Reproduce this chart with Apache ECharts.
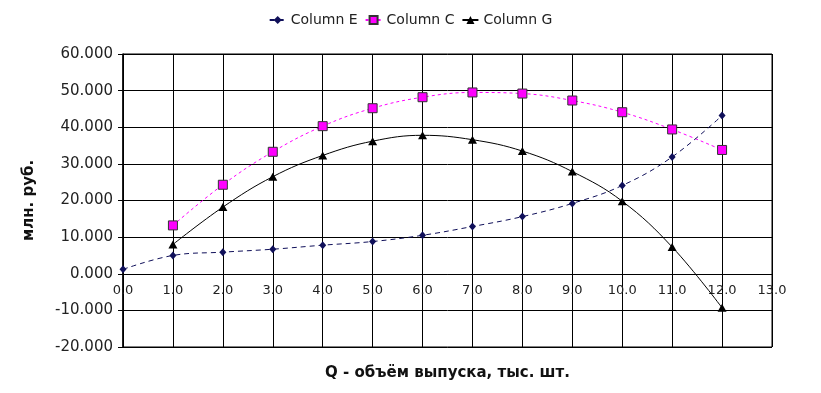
<!DOCTYPE html>
<html>
<head>
<meta charset="utf-8">
<script src="https://cdn.jsdelivr.net/npm/echarts@6/dist/echarts.min.js"></script>
<style>
html,body{margin:0;padding:0;background:#fff;}
#chart{width:821px;height:393px;}
</style>
</head>
<body>
<div id="chart"></div>
<script>
const xValues = [0,1,2,3,4,5,6,7,8,9,10,11,12];
const columnE = [1.2,5.0,5.9,6.7,7.8,8.8,10.5,12.9,15.6,19.2,24.1,31.9,43.2];
const columnCx = [1,2,3,4,5,6,7,8,9,10,11,12];
const columnC = [13.2,24.3,33.3,40.3,45.2,48.2,49.5,49.2,47.3,44.1,39.4,33.8];
const columnGx = [1,2,3,4,5,6,7,8,9,10,11,12];
const columnG = [8.0,18.2,26.5,32.3,36.2,37.8,36.6,33.5,27.9,19.8,7.3,-9.3];
const seriesNames = ['Column E','Column C','Column G'];
const xTitle = 'Q - объём выпуска, тыс. шт.';
const yTitle = 'млн. руб.';

const font = 'DejaVu Sans';
const zip = (xs, ys) => xs.map((x, i) => [x, ys[i]]);

const chart = echarts.init(document.getElementById('chart'), null, {renderer:'canvas'});
chart.setOption({
  backgroundColor:'#fff',
  animation:false,
  textStyle:{fontFamily:font},
  legend:{
    top:8, left:'center',
    itemWidth:16, itemHeight:10, itemGap:7,
    textStyle:{fontFamily:font, fontSize:14, color:'#222'},
    data:seriesNames
  },
  grid:{left:123, right:49, top:54, bottom:46, containLabel:false, outerBoundsMode:'none',
        show:true, borderColor:'#000', borderWidth:1, backgroundColor:'transparent'},
  xAxis:{
    type:'value', min:0, max:13, interval:1,
    position:'bottom', offset:-73,
    name:xTitle, nameLocation:'middle', nameGap:92,
    nameTextStyle:{fontFamily:font, fontSize:15, fontWeight:'bold', color:'#111'},
    axisLine:{show:true, onZero:false, lineStyle:{color:'#000', width:1}},
    axisTick:{show:false},
    axisLabel:{formatter:v=>v.toFixed(1), fontSize:13, color:'#222', margin:10, fontFamily:font},
    splitLine:{show:true, lineStyle:{color:'#000', width:1}}
  },
  yAxis:{
    type:'value', min:-20, max:60, interval:10,
    name:yTitle, nameLocation:'middle', nameGap:86, nameRotate:90,
    nameTextStyle:{fontFamily:font, fontSize:15, fontWeight:'bold', color:'#111'},
    axisLine:{show:true, onZero:false, lineStyle:{color:'#000', width:1.5}},
    axisTick:{show:true, length:5, inside:false, lineStyle:{color:'#000'}},
    axisLabel:{formatter:v=>v.toFixed(3), fontSize:15, color:'#222', margin:10, fontFamily:font},
    splitLine:{show:true, lineStyle:{color:'#000', width:1}}
  },
  series:[
    {
      name:seriesNames[0], type:'line', smooth:0.4,
      data:zip(xValues, columnE),
      symbol:'diamond', symbolSize:[7,8],
      itemStyle:{color:'#10105a'},
      lineStyle:{color:'#10105a', width:1, type:[5,4]},
      z:3
    },
    {
      name:seriesNames[1], type:'line', smooth:0.4,
      data:zip(columnCx, columnC),
      symbol:'rect', symbolSize:9,
      itemStyle:{color:'#ff00ff', borderColor:'#333', borderWidth:1},
      lineStyle:{color:'#ff00ff', width:1, type:[3,3]},
      z:2
    },
    {
      name:seriesNames[2], type:'line', smooth:0.4,
      data:zip(columnGx, columnG),
      symbol:'triangle', symbolSize:[9,8],
      itemStyle:{color:'#000'},
      lineStyle:{color:'#000', width:1, type:'solid'},
      z:4
    }
  ]
});
</script>
</body>
</html>
